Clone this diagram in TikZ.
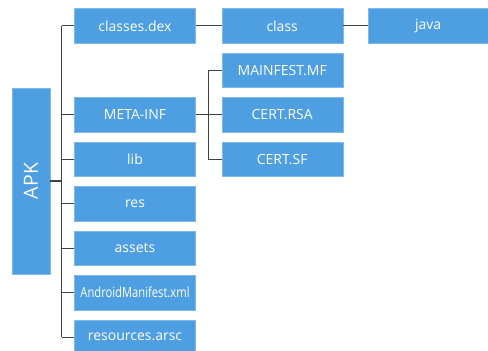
\documentclass[tikz,border=0pt]{standalone}
\usepackage{fontspec}
\setmainfont{Open Sans}
\usepackage{tikz}
\colorlet{boxfill}{rgb,255:red,78;green,158;blue,226}
\colorlet{boxline}{rgb,255:red,130;green,185;blue,236}
\colorlet{wire}{black!75}
\newcommand{\squeeze}[1]{\scalebox{0.8}[1]{#1}}
\tikzset{
  % node options
  entry/.style={rectangle,draw=boxline,fill=boxfill,text=white,
    minimum width=121pt,minimum height=34.5pt,inner sep=0pt,font=\fontsize{14}{16}\selectfont},
  root/.style={entry,rotate=90,font=\fontsize{19.5}{24}\selectfont},
  % path options
  link/.style={draw=wire,line width=1.1pt},
}
\begin{document}
\begin{tikzpicture}[x=1pt,y=-1pt]
  \useasboundingbox (0,0) rectangle (488,351);
  \node[root,minimum width=185.7pt,minimum height=37.4pt] (APK) at (31,181) {APK};
  \node[entry] (classes) at (135,25.8) {classes.dex};
  \node[entry] (meta) at (135,114.8) {META-INF};
  \node[entry] (lib) at (135,159.3) {lib};
  \node[entry] (res) at (135,203.6) {res};
  \node[entry] (assets) at (135,248.1) {assets};
  \node[entry] (manifest) at (135,292.6) {\squeeze{AndroidManifest.xml}};
  \node[entry] (arsc) at (135,337.1) {resources.arsc};
  \node[entry] (class) at (282.2,25.8) {class};
  \node[entry] (java) at (428.2,25.8) {java};
  \node[entry] (mf) at (282.2,70.3) {MAINFEST.MF};
  \node[entry] (rsa) at (282.2,114.8) {CERT.RSA};
  \node[entry] (sf) at (282.2,159.3) {CERT.SF};
  \coordinate (trunk) at (61.7,0);
  \coordinate (branch) at (208.3,0);
  % left tree
  \draw[link] (APK.south -| trunk) -- (APK.south);
  \draw[link] (classes.west -| trunk) -- (arsc.west -| trunk);
  \foreach \n in {classes,meta,lib,res,assets,manifest,arsc}
    \draw[link] (\n.west -| trunk) -- (\n.west);
  % META-INF entries
  \draw[link] (meta.east) -- (rsa.west);
  \draw[link] (mf.west -| branch) -- (sf.west -| branch);
  \foreach \n in {mf,sf}
    \draw[link] (\n.west -| branch) -- (\n.west);
  % classes chain
  \draw[link] (classes) -- (class);
  \draw[link] (class) -- (java);
\end{tikzpicture}
\end{document}
